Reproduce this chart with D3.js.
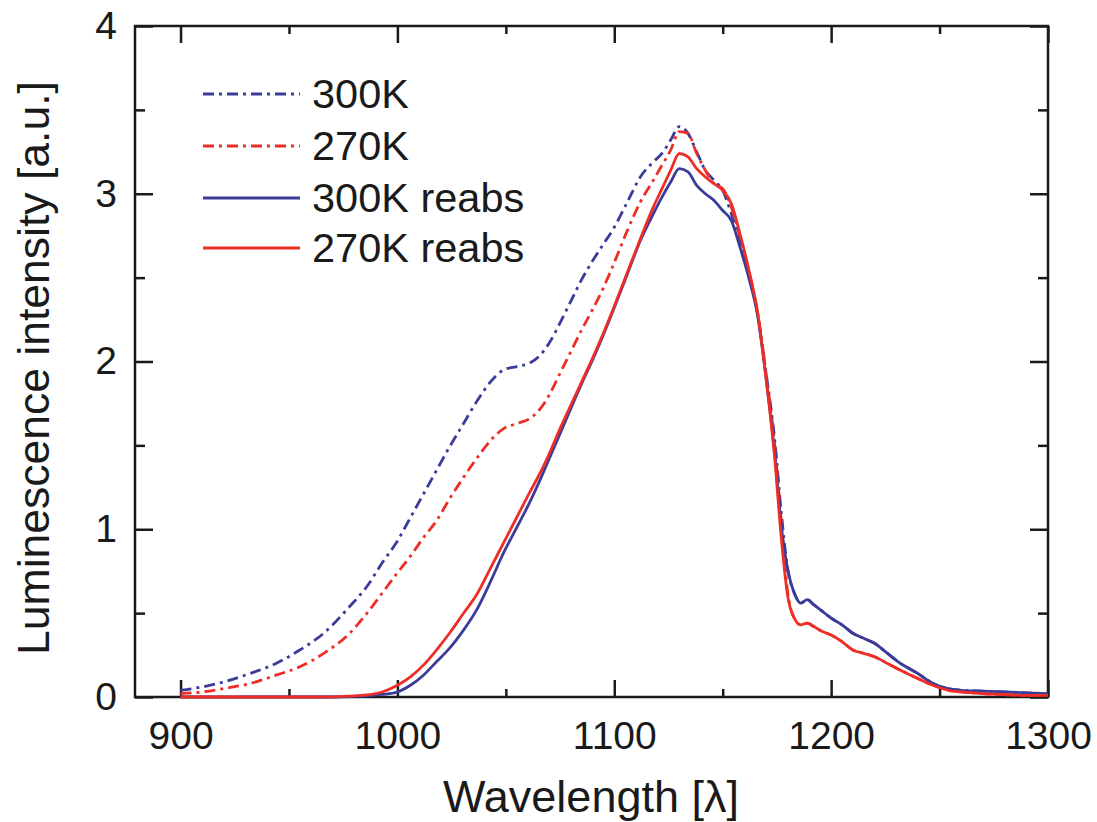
<!DOCTYPE html>
<html>
<head>
<meta charset="utf-8">
<script src="https://cdn.jsdelivr.net/npm/d3@7"></script>
<style>
  body { margin: 0; background: #fff; }
  text { font-family: "Liberation Sans", Arial, sans-serif; fill: #1a1a1a; }
</style>
</head>
<body>
<div id="chart"></div>
<script>
const width = 1097, height = 822;
const margin = {top: 26, right: 49, bottom: 125, left: 135};

// wavelength grid (nm) shared by all four spectra
const wavelengths = [900, 910, 920, 932, 944, 955, 966, 978, 986, 993, 1000, 1006, 1012, 1018, 1024, 1030, 1037, 1043, 1049, 1055,
  1061, 1066, 1070, 1075, 1080, 1085, 1090, 1095, 1100, 1106, 1112, 1118, 1122, 1126, 1130, 1134, 1138, 1142, 1146, 1150,
  1154, 1158, 1162, 1166, 1170, 1174, 1177, 1180, 1183, 1186, 1189, 1192, 1196, 1200, 1205, 1210, 1215, 1220, 1226, 1232,
  1240, 1247, 1254, 1260, 1270, 1280, 1290, 1300];

const i300 = [0.04, 0.06, 0.09, 0.14, 0.20, 0.28, 0.38, 0.54, 0.66, 0.80, 0.93, 1.07, 1.21, 1.35, 1.49, 1.62, 1.77, 1.88, 1.95, 1.97,
  1.99, 2.04, 2.11, 2.23, 2.36, 2.49, 2.60, 2.70, 2.80, 2.95, 3.10, 3.19, 3.24, 3.32, 3.40, 3.36, 3.25, 3.14, 3.08, 3.02,
  2.88, 2.72, 2.52, 2.29, 1.93, 1.53, 1.10, 0.76, 0.62, 0.56, 0.58, 0.55, 0.51, 0.47, 0.43, 0.38, 0.35, 0.32, 0.26, 0.20,
  0.14, 0.08, 0.05, 0.04, 0.035, 0.03, 0.025, 0.02];

const i270 = [0.02, 0.03, 0.05, 0.08, 0.13, 0.18, 0.26, 0.38, 0.50, 0.62, 0.74, 0.84, 0.95, 1.05, 1.18, 1.30, 1.43, 1.53, 1.60, 1.63,
  1.66, 1.72, 1.80, 1.93, 2.06, 2.19, 2.31, 2.44, 2.59, 2.78, 2.95, 3.08, 3.17, 3.26, 3.37, 3.36, 3.24, 3.14, 3.06, 3.03,
  2.92, 2.74, 2.54, 2.30, 1.93, 1.50, 1.05, 0.62, 0.47, 0.43, 0.44, 0.42, 0.39, 0.37, 0.33, 0.28, 0.26, 0.24, 0.20, 0.16,
  0.11, 0.07, 0.04, 0.03, 0.02, 0.015, 0.01, 0.01];

const i300reabs = [0, 0, 0, 0, 0, 0, 0, 0.003, 0.007, 0.015, 0.03, 0.07, 0.13, 0.21, 0.29, 0.39, 0.53, 0.69, 0.86, 1.01,
  1.16, 1.30, 1.42, 1.57, 1.72, 1.87, 2.01, 2.16, 2.32, 2.52, 2.72, 2.88, 2.98, 3.07, 3.15, 3.13, 3.05, 3.00, 2.96, 2.90,
  2.84, 2.68, 2.50, 2.28, 1.90, 1.45, 1.02, 0.76, 0.62, 0.56, 0.58, 0.55, 0.51, 0.47, 0.43, 0.38, 0.35, 0.32, 0.26, 0.20,
  0.14, 0.08, 0.05, 0.04, 0.035, 0.03, 0.025, 0.02];

const i270reabs = [0, 0, 0, 0, 0, 0, 0, 0.005, 0.012, 0.03, 0.07, 0.12, 0.19, 0.28, 0.38, 0.49, 0.62, 0.77, 0.92, 1.07,
  1.22, 1.34, 1.45, 1.60, 1.74, 1.88, 2.02, 2.17, 2.33, 2.53, 2.73, 2.92, 3.03, 3.14, 3.24, 3.22, 3.15, 3.10, 3.06, 3.02,
  2.94, 2.76, 2.55, 2.30, 1.90, 1.42, 0.95, 0.60, 0.47, 0.43, 0.44, 0.42, 0.39, 0.37, 0.33, 0.28, 0.26, 0.24, 0.20, 0.16,
  0.11, 0.07, 0.04, 0.03, 0.02, 0.015, 0.01, 0.01];

const seriesNames = ['300K', '270K', '300K reabs', '270K reabs'];
const seriesValues = [i300, i270, i300reabs, i270reabs];
const seriesColors = ['#3b3c9a', '#ee2e26', '#3b3c9a', '#ee2e26'];
const seriesDash = ['11,5,3,5', '11,5,3,5', null, null];

const xMajor = [900, 1000, 1100, 1200, 1300];
const xMinor = [950, 1050, 1150, 1250];
const yMajor = [0, 1, 2, 3, 4];
const yMinor = [0.5, 1.5, 2.5, 3.5];

const svg = d3.select('#chart').append('svg')
  .attr('width', width).attr('height', height)
  .attr('viewBox', `0 0 ${width} ${height}`);

const x = d3.scaleLinear().domain([879, 1300]).range([margin.left, width - margin.right]);
const y = d3.scaleLinear().domain([0, 4]).range([height - margin.bottom, margin.top]);

// ticks, all pointing inward
function styleAxis(g) {
  g.select('.domain').remove();
  g.selectAll('line').attr('stroke', '#1a1a1a').attr('stroke-width', 2.5);
  g.selectAll('text').attr('fill', '#1a1a1a');
}
svg.append('g').attr('transform', `translate(0,${y(0)})`)
  .call(d3.axisBottom(x).tickValues(xMajor).tickSize(-17).tickPadding(24).tickFormat(d3.format('d')))
  .call(styleAxis).call(g => g.selectAll('text').style('font-size', '39px'));
svg.append('g').attr('transform', `translate(0,${y(0)})`)
  .call(d3.axisBottom(x).tickValues(xMinor).tickSize(-8).tickFormat('')).call(styleAxis);
svg.append('g').attr('transform', `translate(0,${y(4)})`)
  .call(d3.axisTop(x).tickValues(xMajor).tickSize(-17).tickFormat('')).call(styleAxis);
svg.append('g').attr('transform', `translate(0,${y(4)})`)
  .call(d3.axisTop(x).tickValues(xMinor).tickSize(-8).tickFormat('')).call(styleAxis);

svg.append('g').attr('transform', `translate(${x.range()[0]},0)`)
  .call(d3.axisLeft(y).tickValues(yMajor).tickSize(-18).tickPadding(18).tickFormat(d3.format('d')))
  .call(styleAxis).call(g => g.selectAll('text').style('font-size', '39px'));
svg.append('g').attr('transform', `translate(${x.range()[0]},0)`)
  .call(d3.axisLeft(y).tickValues(yMinor).tickSize(-10).tickFormat('')).call(styleAxis);
svg.append('g').attr('transform', `translate(${x.range()[1]},0)`)
  .call(d3.axisRight(y).tickValues(yMajor).tickSize(-18).tickFormat('')).call(styleAxis);
svg.append('g').attr('transform', `translate(${x.range()[1]},0)`)
  .call(d3.axisRight(y).tickValues(yMinor).tickSize(-10).tickFormat('')).call(styleAxis);

// frame
svg.append('rect')
  .attr('x', x.range()[0]).attr('y', y(4))
  .attr('width', x.range()[1] - x.range()[0]).attr('height', y(0) - y(4))
  .attr('fill', 'none').attr('stroke', '#1a1a1a').attr('stroke-width', 2.5);

// spectra
const line = d3.line()
  .x((d, i) => x(wavelengths[i]))
  .y(d => y(d))
  .curve(d3.curveMonotoneX);

svg.append('g').selectAll('path').data(seriesValues)
  .join('path')
  .attr('d', d => line(d))
  .attr('fill', 'none')
  .attr('stroke', (d, i) => seriesColors[i])
  .attr('stroke-width', 2.8)
  .attr('stroke-dasharray', (d, i) => seriesDash[i]);

// legend
const legend = svg.append('g');
const rowY = [94, 146, 198, 248];
seriesNames.forEach((name, i) => {
  legend.append('line')
    .attr('x1', 203).attr('x2', 300).attr('y1', rowY[i]).attr('y2', rowY[i])
    .attr('stroke', seriesColors[i]).attr('stroke-width', 2.8)
    .attr('stroke-dasharray', seriesDash[i]);
  legend.append('text')
    .attr('x', 312).attr('y', rowY[i] + 14)
    .style('font-size', '41.5px')
    .text(name);
});

// axis titles
svg.append('text')
  .attr('x', 591).attr('y', 812)
  .attr('text-anchor', 'middle')
  .style('font-size', '45px')
  .text('Wavelength [λ]');
svg.append('text')
  .attr('transform', `translate(49,368) rotate(-90)`)
  .attr('text-anchor', 'middle')
  .style('font-size', '44.5px')
  .text('Luminescence intensity [a.u.]');
</script>
</body>
</html>
